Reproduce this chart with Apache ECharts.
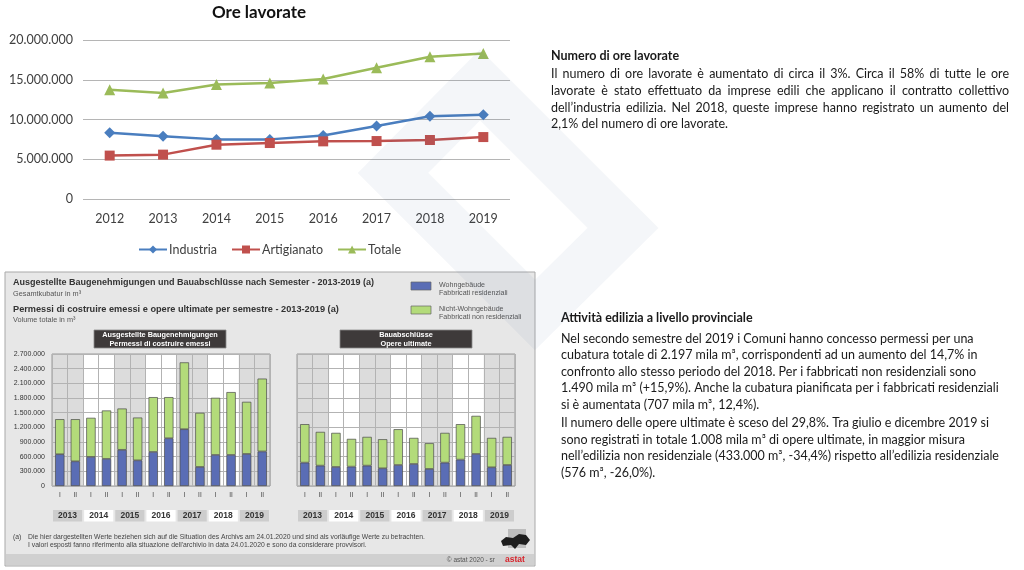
<!DOCTYPE html>
<html><head><meta charset="utf-8">
<script src="https://cdn.jsdelivr.net/npm/echarts@6/dist/echarts.min.js"></script>
<style>html,body{margin:0;padding:0;background:#fff}#c{width:1024px;height:570px}</style>
</head><body><div id="c"></div>
<script>
// ---- Data: Ore lavorate ----
const years = ['2012','2013','2014','2015','2016','2017','2018','2019'];
const industria   = [8330000, 7900000, 7500000, 7500000, 8000000, 9170000, 10400000, 10600000];
const artigianato = [5460000, 5580000, 6830000, 7040000, 7250000, 7290000, 7420000, 7790000];
const totale      = [13750000, 13330000, 14400000, 14600000, 15100000, 16500000, 17900000, 18300000];

// ---- Data: permessi / opere ultimate (m³) ----
const barYears = ['2013','2014','2015','2016','2017','2018','2019'];
const semesters = ['I','II'];
const permessiRes    = [650000, 505000, 595000, 555000, 740000, 525000, 697000, 977000, 1162000, 390000, 636000, 636000, 656000, 707000];
const permessiNonRes = [717000, 862000, 800000, 990000, 845000, 875000, 1121000, 841000, 1367000, 1107000, 1168000, 1285000, 1066000, 1490000];
const opereRes       = [478000, 417000, 390000, 396000, 417000, 362000, 430000, 451000, 349000, 478000, 540000, 656000, 383000, 430000];
const opereNonRes    = [787000, 690000, 697000, 568000, 588000, 595000, 732000, 533000, 526000, 609000, 725000, 779000, 601000, 575000];

const cats = barYears.flatMap(y => semesters.map(s => y + ' ' + s));
const fmt = v => String(v).replace(/\B(?=(\d{3})+(?!\d))/g, '.');

const COL_RES = '#5a6db5', COL_NON = '#b3db7a';
const PF = '"Liberation Sans", Arial, sans-serif';
const TF = 'Lato, "Open Sans", sans-serif';

const mctx = document.createElement('canvas').getContext('2d');
function txt(x, y, text, font, fill, align, z) {
  return {type:'text', z: z==null?5:z, silent:true,
    style:{x, y, text, font, fill: fill||'#222', textAlign: align||'left', align: align||'left',
           textVerticalAlign:'middle', verticalAlign:'middle'}};
}
function justify(x, y, width, text, font, fill) {
  mctx.font = font;
  const words = text.split(' ');
  const total = words.reduce((a, w) => a + mctx.measureText(w).width, 0);
  const gap = (width - total) / (words.length - 1);
  let cx = x; const out = [];
  words.forEach(w => { out.push(txt(cx, y, w, font, fill)); cx += mctx.measureText(w).width + gap; });
  return out;
}

const chart = echarts.init(document.getElementById('c'), null, {renderer:'canvas'});

function bandSeries(xi) {
  return {
    type:'custom', xAxisIndex:xi, yAxisIndex:xi, z:-1, clip:false, silent:true,
    data: barYears.map((y, i) => [2*i, 0]),
    encode:{x:0, y:1},
    renderItem(params, api) {
      const idx = params.dataIndex;
      const c = api.coord([api.value(0), 0]);
      const bw = api.size([1, 0])[0];
      const cs = params.coordSys;
      const x0 = c[0] - bw/2, w = bw*2;
      const white = idx % 2 === 1;
      const by = cs.y + cs.height;
      return {type:'group', children:[
        {type:'rect', shape:{x:x0, y:cs.y, width:w, height:cs.height}, style:{fill: white ? '#ffffff' : '#dcdcdc'}},
        {type:'rect', shape:{x:x0+1, y:by+24, width:w-2, height:11.5}, style:{fill: white ? '#ffffff' : '#cdcdcd'}},
        {type:'text', style:{x:x0+w/2, y:by+30, text:barYears[idx], font:'bold 8.5px ' + PF, fill:'#333',
          textAlign:'center', align:'center', textVerticalAlign:'middle', verticalAlign:'middle'}}
      ]};
    }
  };
}
function barSeries(name, data, xi, stack, color) {
  return {name, type:'bar', xAxisIndex:xi, yAxisIndex:xi, stack, data, barWidth:'60%',
    itemStyle:{color, borderColor:'#4a4a4a', borderWidth:0.7}, silent:true, z:3};
}

const barX = (i) => ({gridIndex:i, type:'category', data:cats,
  axisLine:{show:false}, axisTick:{show:false},
  splitLine:{show:true, interval:0, lineStyle:{color:'#b3b3b3', width:1}},
  axisLabel:{interval:0, margin:6, fontSize:6.5, color:'#444', fontFamily:PF, formatter:v => v.split(' ')[1]}});
const barY = (i, labels) => ({gridIndex:i, type:'value', min:0, max:2700000, interval:300000,
  axisLine:{show:false}, axisTick:{show:false},
  splitLine:{lineStyle:{color:'#b3b3b3', width:1}},
  axisLabel:{show:labels, margin:7, fontSize:7, color:'#333', fontFamily:PF, formatter:fmt}});

// ---- right side texts ----
const F1b = 'bold 12.5px ' + TF, F1 = '12.5px ' + TF;
const block1 = [
  txt(551, 55.5, 'Numero di ore lavorate', F1b, '#1a1a1a'),
  ...justify(551, 74, 458, 'Il numero di ore lavorate è aumentato di circa il 3%. Circa il 58% di tutte le ore', F1, '#1a1a1a'),
  ...justify(551, 91, 458, 'lavorate è stato effettuato da imprese edili che applicano il contratto collettivo', F1, '#1a1a1a'),
  ...justify(551, 107.5, 458, 'dell’industria edilizia. Nel 2018, queste imprese hanno registrato un aumento del', F1, '#1a1a1a'),
  txt(551, 124, '2,1% del numero di ore lavorate.', F1, '#1a1a1a')
];
const block2Lines = [
  ['Nel secondo semestre del 2019 i Comuni hanno concesso permessi per una', 338.5],
  ['cubatura totale di 2.197 mila m³, corrispondenti ad un aumento del 14,7% in', 355],
  ['confronto allo stesso periodo del 2018. Per i fabbricati non residenziali sono', 371.5],
  ['1.490 mila m³ (+15,9%). Anche la cubatura pianificata per i fabbricati residenziali', 388],
  ['si è aumentata (707 mila m³, 12,4%).', 404.5],
  ['Il numero delle opere ultimate è sceso del 29,8%. Tra giulio e dicembre 2019 si', 423],
  ['sono registrati in totale 1.008 mila m³ di opere ultimate, in maggior misura', 439.5],
  ['nell’edilizia non residenziale (433.000 m³, -34,4%) rispetto all’edilizia residenziale', 456],
  ['(576 m³, -26,0%).', 472.5]
];
const block2 = [txt(561, 318, 'Attività edilizia a livello provinciale', F1b, '#1a1a1a'),
  ...block2Lines.map(l => txt(561, l[1], l[0], F1, '#1a1a1a'))];

// ---- panel graphics ----
const pf = (s, b) => (b ? 'bold ' : '') + s + 'px ' + PF;
const panel = [
  {type:'rect', z:-10, silent:true, shape:{x:5, y:272, width:530, height:294}, style:{fill:'#e7e7e7', stroke:'#a9a9a9', lineWidth:1}},
  {type:'rect', z:-9, silent:true, shape:{x:6, y:554, width:528, height:11}, style:{fill:'#d0d0d0'}},
  txt(13, 283, 'Ausgestellte Baugenehmigungen und Bauabschlüsse nach Semester - 2013-2019 (a)', pf(9, true), '#333', 'left', -5),
  txt(13, 293.5, 'Gesamtkubatur in m³', pf(7.3), '#555', 'left', -5),
  txt(13, 309, 'Permessi di costruire emessi e opere ultimate per semestre - 2013-2019 (a)', pf(9.2, true), '#333', 'left', -5),
  txt(13, 319.5, 'Volume totale in m³', pf(7.3), '#555', 'left', -5),
  {type:'rect', z:-5, silent:true, shape:{x:411, y:282, width:20, height:8}, style:{fill:COL_RES, stroke:'#666', lineWidth:0.7}},
  {type:'rect', z:-5, silent:true, shape:{x:411, y:306, width:20, height:8}, style:{fill:COL_NON, stroke:'#666', lineWidth:0.7}},
  txt(439, 285, 'Wohngebäude', pf(7.1), '#555', 'left', -5),
  txt(439, 293, 'Fabbricati residenziali', pf(7.1), '#555', 'left', -5),
  txt(439, 309, 'Nicht-Wohngebäude', pf(7.1), '#555', 'left', -5),
  txt(439, 317, 'Fabbricati non residenziali', pf(7.1), '#555', 'left', -5),
  {type:'rect', z:-5, silent:true, shape:{x:94, y:330, width:132, height:18}, style:{fill:'#3e3a3a', stroke:'#8a8a8a', lineWidth:0.8}},
  txt(160, 335, 'Ausgestellte Baugenehmigungen', pf(7.3, true), '#fff', 'center', -4),
  txt(160, 343.5, 'Permessi di costruire emessi', pf(7.3, true), '#fff', 'center', -4),
  {type:'rect', z:-5, silent:true, shape:{x:340, y:330, width:132, height:18}, style:{fill:'#3e3a3a', stroke:'#8a8a8a', lineWidth:0.8}},
  txt(406, 335, 'Bauabschlüsse', pf(7.3, true), '#fff', 'center', -4),
  txt(406, 343.5, 'Opere ultimate', pf(7.3, true), '#fff', 'center', -4),
  txt(13, 537, '(a)', pf(6.8), '#444', 'left', -5),
  txt(28, 537, 'Die hier dargestellten Werte beziehen sich auf die Situation des Archivs am 24.01.2020 und sind als vorläufige Werte zu betrachten.', pf(6.8), '#444', 'left', -5),
  txt(28, 545, 'I valori esposti fanno riferimento alla situazione dell\'archivio in data 24.01.2020 e sono da considerare provvisori.', pf(6.8), '#444', 'left', -5),
  txt(495, 560, '© astat 2020 - sr', pf(6.5), '#555', 'right', -5),
  txt(505, 560, 'astat', pf(8.5, true), '#d8242c', 'left', -5),
  {type:'rect', z:-6, silent:true, shape:{x:508, y:529, width:18, height:19}, style:{fill:'#bdbdbd'}},
  {type:'polygon', z:-5, silent:true, shape:{points:[[501,541],[506,537],[513,538],[519,534],[526,535],[530,540],[526,545],[519,544],[515,549],[511,545],[503,546]]}, style:{fill:'#1e1e1e'}}
];

const watermark = [
  {type:'polygon', z:50, silent:true, shape:{points:[[480,85],[623,228],[535,315],[393,173]]},
   style:{fill:null, stroke:'rgba(70,95,150,0.06)', lineWidth:50, lineJoin:'miter'}}
];

const option = {
  animation:false,
  backgroundColor:'#fff',
  textStyle:{fontFamily:TF},
  graphic:{elements:[
    txt(259, 13, 'Ore lavorate', 'bold 17px ' + TF, '#111', 'center'),
    ...block1, ...block2, ...panel, ...watermark
  ]},
  legend:{
    data:['Industria','Artigianato','Totale'], left:133, top:238,
    itemWidth:28, itemHeight:10, itemGap:14,
    textStyle:{fontSize:12.5, color:'#404040', fontFamily:TF, padding:[0,0,0,-3]}
  },
  grid:[
    {left:83, top:40, width:427, height:159},
    {left:52, top:354, width:218, height:132, show:true, borderColor:'#999', borderWidth:1, backgroundColor:'transparent'},
    {left:297, top:354, width:218, height:132, show:true, borderColor:'#999', borderWidth:1, backgroundColor:'transparent'}
  ],
  xAxis:[
    {gridIndex:0, type:'category', data:years, axisLine:{show:false}, axisTick:{show:false},
     axisLabel:{margin:13, fontSize:12.5, color:'#404040', fontFamily:TF}},
    barX(1), barX(2)
  ],
  yAxis:[
    {gridIndex:0, type:'value', min:0, max:20000000, interval:5000000, axisLine:{show:false}, axisTick:{show:false},
     splitLine:{lineStyle:{color:'#b5b5b5', width:1}},
     axisLabel:{margin:10, fontSize:12.5, color:'#404040', fontFamily:TF, formatter:fmt}},
    barY(1, true), barY(2, false)
  ],
  series:[
    {name:'Industria', type:'line', data:industria, symbol:'diamond', symbolSize:11,
     lineStyle:{width:2.5, color:'#4a7ebf'}, itemStyle:{color:'#4a7ebf'}, z:4},
    {name:'Artigianato', type:'line', data:artigianato, symbol:'rect', symbolSize:10,
     lineStyle:{width:2.5, color:'#c0504d'}, itemStyle:{color:'#c0504d'}, z:4},
    {name:'Totale', type:'line', data:totale, symbol:'triangle', symbolSize:11,
     lineStyle:{width:2.5, color:'#9bbb59'}, itemStyle:{color:'#9bbb59'}, z:4},
    bandSeries(1), bandSeries(2),
    barSeries('Wohngebäude', permessiRes, 1, 'p', COL_RES),
    barSeries('Nicht-Wohngebäude', permessiNonRes, 1, 'p', COL_NON),
    barSeries('Wohngebäude', opereRes, 2, 'o', COL_RES),
    barSeries('Nicht-Wohngebäude', opereNonRes, 2, 'o', COL_NON)
  ]
};
chart.setOption(option);
</script></body></html>
